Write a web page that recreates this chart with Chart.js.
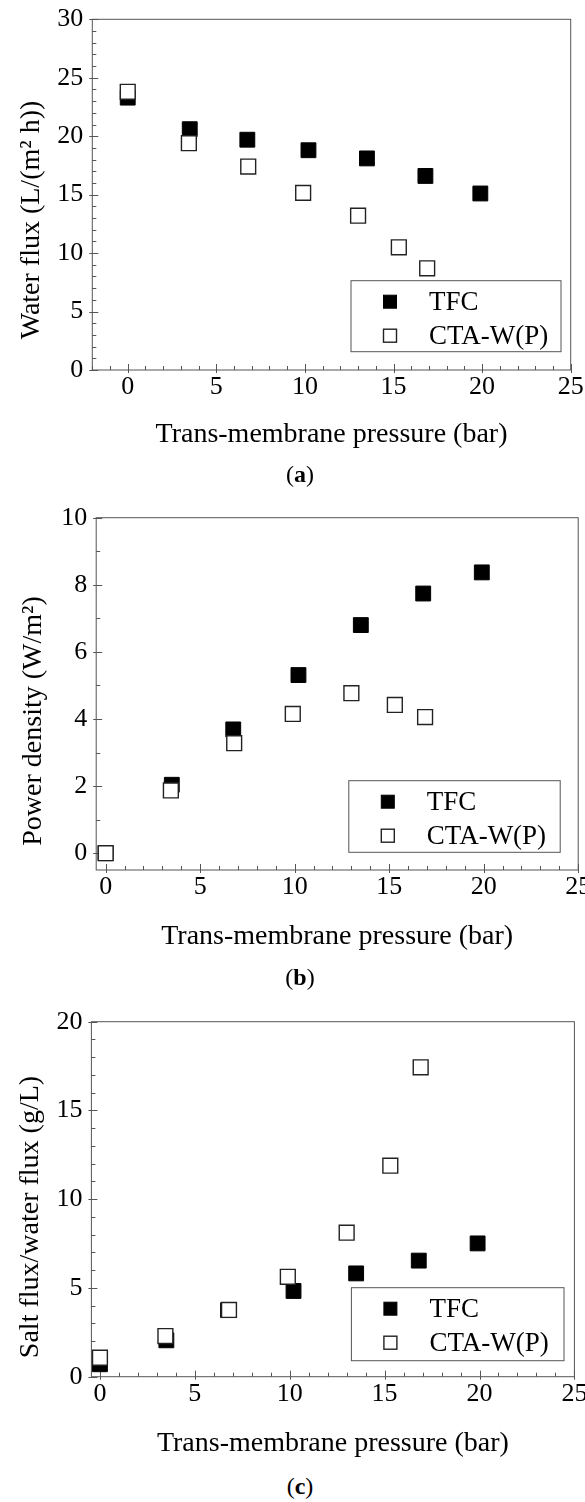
<!DOCTYPE html>
<html>
<head>
<meta charset="utf-8">
<script src="https://cdn.jsdelivr.net/npm/chart.js@4.4.0/dist/chart.umd.min.js"></script>
<style>
  html, body { margin: 0; padding: 0; background: #fff; }
  body { width: 585px; height: 1502px; position: relative; overflow: hidden;
         font-family: "Liberation Serif", "Times New Roman", serif; }
  canvas { position: absolute; left: 0; }
  .panel-label { position: absolute; left: 300px; transform: translate(-50%, -50%);
                 font-size: 24px; color: #000; white-space: nowrap; }
</style>
</head>
<body>
<canvas id="chartA" width="585" height="455" style="top:0px"></canvas>
<canvas id="chartB" width="585" height="505" style="top:455px"></canvas>
<canvas id="chartC" width="585" height="505" style="top:960px"></canvas>
<div class="panel-label" style="top:474px">(<b>a</b>)</div>
<div class="panel-label" style="top:977px">(<b>b</b>)</div>
<div class="panel-label" style="top:1486px">(<b>c</b>)</div>
<script>
// ---- data ----
const seriesNames = ['TFC', 'CTA-W(P)'];
const pressureTicks = [0, 5, 10, 15, 20, 25];
const tfcPressure = [0, 3.5, 6.75, 10.2, 13.5, 16.8, 19.9];
const ctaPressure = [0, 3.45, 6.8, 9.9, 13.0, 15.3, 16.9];

// (a) water flux
const fluxTicks = [0, 5, 10, 15, 20, 25, 30];
const tfcFlux = [23.3, 20.6, 19.7, 18.8, 18.1, 16.6, 15.1];
const ctaFlux = [23.8, 19.4, 17.4, 15.15, 13.2, 10.5, 8.7];

// (b) power density
const powerTicks = [0, 2, 4, 6, 8, 10];
const tfcPower = [0, 2.04, 3.69, 5.31, 6.8, 7.74, 8.37];
const ctaPower = [0, 1.87, 3.28, 4.15, 4.77, 4.42, 4.06];

// (c) salt flux / water flux
const ratioTicks = [0, 5, 10, 15, 20];
const tfcRatio = [0.7, 2.05, 3.75, 4.83, 5.82, 6.54, 7.51];
const ctaRatio = [1.07, 2.29, 3.76, 5.63, 8.11, 11.89, 17.43];

const FONT = '"Liberation Serif", "Times New Roman", serif';
Chart.defaults.font.family = FONT;
Chart.defaults.color = '#000';

// box frame, inward ticks and rotated y title
const framePlugin = {
    id: 'frame',
    beforeDatasetsDraw(chart, args, opts) {
        const { ctx, chartArea: a } = chart;
        const xs = chart.scales.x, ys = chart.scales.y;
        ctx.save();
        ctx.strokeStyle = '#555';
        ctx.lineWidth = 1;
        ctx.strokeRect(a.left, a.top, a.right - a.left, a.bottom - a.top);
        ctx.beginPath();
        for (let v = Math.ceil(xs.min); v <= xs.max; v += 1) {
            const px = Math.round(xs.getPixelForValue(v)) + 0.5;
            const major = pressureTicks.includes(v);
            ctx.moveTo(px, a.bottom + (major ? 3 : 0));
            ctx.lineTo(px, a.bottom - (major ? 6 : 4));
        }
        for (let v = Math.ceil(ys.min); v <= ys.max; v += 1) {
            const py = Math.round(ys.getPixelForValue(v)) + 0.5;
            const major = opts.yMajor.includes(v);
            ctx.moveTo(a.left - (major ? 3 : 0), py);
            ctx.lineTo(a.left + (major ? 6 : 4), py);
        }
        ctx.stroke();

        ctx.translate(opts.titleX, opts.titleY);
        ctx.rotate(-Math.PI / 2);
        ctx.font = '28px ' + FONT;
        ctx.fillStyle = '#000';
        ctx.textAlign = 'center';
        ctx.textBaseline = 'middle';
        ctx.fillText(opts.title, 0, 0);
        ctx.restore();
    }
};

// boxed legend sitting inside the plot
const legendBoxPlugin = {
    id: 'legendBox',
    afterDatasetsDraw(chart, args, opts) {
        const ctx = chart.ctx;
        const { x, y, w, h } = opts;
        ctx.save();
        ctx.fillStyle = '#fff';
        ctx.fillRect(x, y, w, h);
        ctx.strokeStyle = '#555';
        ctx.lineWidth = 1;
        ctx.strokeRect(x, y, w, h);
        ctx.font = '27px ' + FONT;
        ctx.textBaseline = 'middle';
        chart.data.datasets.forEach((ds, i) => {
            const cy = y + opts.rows[i];
            const cx = x + 39;
            const s = 13;
            ctx.fillStyle = ds.backgroundColor;
            ctx.fillRect(cx - s / 2, cy - s / 2, s, s);
            ctx.strokeStyle = ds.borderColor;
            ctx.lineWidth = ds.borderWidth;
            ctx.strokeRect(cx - s / 2, cy - s / 2, s, s);
            ctx.fillStyle = '#000';
            ctx.fillText(ds.label, x + 78, cy + 1);
        });
        ctx.restore();
    }
};

function buildChart(canvasId, p) {
    const titleSize = 28;
    const xh = (p.xTitleY - p.plotBottom) + titleSize * 1.2 / 2;
    const ct = p.canvasTop;
    return new Chart(document.getElementById(canvasId), {
        type: 'scatter',
        data: {
            datasets: [
                {
                    label: seriesNames[0],
                    data: tfcPressure.map((x, i) => ({ x: x, y: p.tfc[i] })),
                    pointStyle: 'rect', pointRadius: 10.5, pointHoverRadius: 10.5,
                    backgroundColor: '#000', borderColor: '#000', borderWidth: 1,
                    clip: false, order: 1
                },
                {
                    label: seriesNames[1],
                    data: ctaPressure.map((x, i) => ({ x: x, y: p.cta[i] })),
                    pointStyle: 'rect', pointRadius: 10.5, pointHoverRadius: 10.5,
                    backgroundColor: '#fff', borderColor: '#222', borderWidth: 1.4,
                    clip: false, order: 0
                }
            ]
        },
        options: {
            responsive: false,
            animation: false,
            devicePixelRatio: 1,
            events: [],
            layout: {
                autoPadding: false,
                padding: {
                    left: 0,
                    right: 585 - p.right,
                    top: p.plotTop - ct,
                    bottom: p.canvasHeight - (p.plotBottom - ct) - xh
                }
            },
            plugins: {
                legend: { display: false },
                tooltip: { enabled: false },
                frame: { yMajor: p.yTicks, title: p.yTitle, titleX: p.yTitleX, titleY: p.yTitleY - ct },
                legendBox: { x: p.legend[0], y: p.legend[1] - ct, w: p.legend[2], h: p.legend[3], rows: [21, 55] }
            },
            scales: {
                x: {
                    type: 'linear', min: p.xMin, max: 25,
                    grid: { display: false, drawTicks: false },
                    border: { display: false },
                    afterBuildTicks: s => { s.ticks = pressureTicks.map(v => ({ value: v })); },
                    afterFit: s => { s.height = xh; s.paddingLeft = 0; s.paddingRight = 0; },
                    ticks: { color: '#000', font: { size: 26 }, padding: 2, maxRotation: 0, autoSkip: false },
                    title: {
                        display: true, text: 'Trans-membrane pressure (bar)', color: '#000',
                        font: { size: titleSize }, padding: { top: 0, bottom: 0 }
                    }
                },
                y: {
                    type: 'linear', min: p.yMin, max: p.yMax,
                    grid: { display: false, drawTicks: false },
                    border: { display: false },
                    afterBuildTicks: s => { s.ticks = p.yTicks.map(v => ({ value: v })); },
                    afterFit: s => { s.width = p.left; s.paddingTop = 0; s.paddingBottom = 0; },
                    ticks: { color: '#000', font: { size: 26 }, padding: 9, autoSkip: false }
                }
            }
        },
        plugins: [framePlugin, legendBoxPlugin]
    });
}

buildChart('chartA', {
    canvasTop: 0, canvasHeight: 455,
    left: 92.3, right: 570.7, plotTop: 19.3, plotBottom: 370,
    xMin: -2, yMin: 0, yMax: 30, yTicks: fluxTicks,
    tfc: tfcFlux, cta: ctaFlux,
    xTitleY: 435, yTitle: 'Water flux (L/(m\u00B2 h))', yTitleX: 32, yTitleY: 220,
    legend: [351, 280.7, 210, 71]
});

buildChart('chartB', {
    canvasTop: 455, canvasHeight: 505,
    left: 96.2, right: 578.2, plotTop: 517.7, plotBottom: 870,
    xMin: -0.5, yMin: -0.5, yMax: 10, yTicks: powerTicks,
    tfc: tfcPower, cta: ctaPower,
    xTitleY: 936.7, yTitle: 'Power density (W/m\u00B2)', yTitleX: 34, yTitleY: 721,
    legend: [348.8, 780.7, 211.4, 71.6]
});

buildChart('chartC', {
    canvasTop: 960, canvasHeight: 505,
    left: 91.4, right: 574.4, plotTop: 1021.7, plotBottom: 1376.7,
    xMin: -0.45, yMin: 0, yMax: 20, yTicks: ratioTicks,
    tfc: tfcRatio, cta: ctaRatio,
    xTitleY: 1443.3, yTitle: 'Salt flux/water flux (g/L)', yTitleX: 31, yTitleY: 1217,
    legend: [351.4, 1287.7, 212.6, 73]
});
</script>
</body>
</html>
